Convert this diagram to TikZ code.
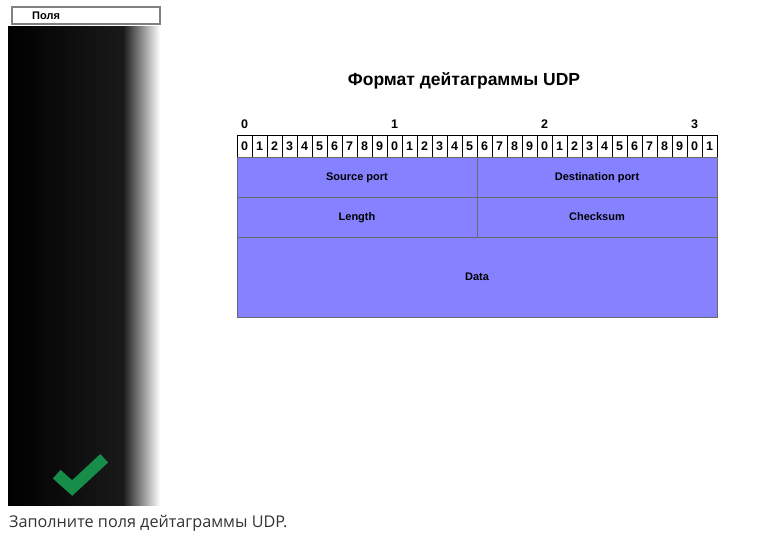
\documentclass[tikz,border=0pt]{standalone}
\usepackage{fontspec}
\setmainfont{Liberation Sans}
\newfontfamily\notefont{Open Sans}
\usetikzlibrary{positioning}
\definecolor{fieldblue}{RGB}{134,130,255}
\definecolor{fieldline}{RGB}{105,105,105}
\definecolor{tickgreen}{RGB}{22,142,74}
\definecolor{notegray}{RGB}{51,51,51}
\tikzset{bitbox/.style={draw,line width=0.8pt,outer sep=0pt,inner sep=0pt,minimum width=15pt,minimum height=22pt,font=\bfseries\fontsize{12.5}{12}\selectfont},
	 tens/.style={inner sep=0pt,font=\bfseries\fontsize{12.5}{12}\selectfont},
	 field/.style={draw=fieldline,fill=fieldblue,line width=0.8pt,outer sep=0pt,inner sep=0pt,minimum width=240pt,minimum height=40pt,text height=1.5ex,text depth=0.25ex,font=\bfseries\fontsize{11}{12}\selectfont},
	 node distance = 0pt
	 }

\begin{document}
\begin{tikzpicture}[x=1pt,y=-1pt]% UDP datagram
        \useasboundingbox (0,0) rectangle (769,540);
        % left panel
        \shade[left color=black,right color=black!90!white] (8,27) rectangle (123,505);
        \shade[left color=black!90!white,right color=white] (123,27) rectangle (160,505);
        \node[draw=gray,line width=2pt,fill=white,outer sep=0pt,inner sep=0pt,minimum width=148pt,minimum height=17pt,anchor=north west] (tab) at (12,7) {};
        \node[anchor=west,inner sep=0pt,font=\bfseries\fontsize{11}{12}\selectfont] (tablabel) at (32,16) {Поля};
        \draw[tickgreen,line width=11.5pt,line join=miter] (56.7,474.2) -- (72.2,488) -- (104.2,458.3);
        \node[anchor=base west,inner sep=0pt,text=notegray,font=\notefont\fontsize{16.2}{18}\selectfont] (note) at (9,527) {Заполните поля дейтаграммы UDP.};
        % title
        \node[font=\bfseries\fontsize{17.5}{20}\selectfont] (title) at (464,81) {Формат дейтаграммы UDP};
        % bit ruler
        \node[bitbox,anchor=north west] (b0) at (237,135) {0};
        \foreach \i in {1,...,31} {
            \pgfmathtruncatemacro\p{\i-1}
            \pgfmathtruncatemacro\d{mod(\i,10)}
            \node[bitbox] (b\i) [right=of b\p] {\d};
        }
        \foreach \t/\c in {0/0,1/10,2/20,3/30}
            \node[tens] (t\t) [above=6.5pt of b\c] {\t};
        % header fields
        \node[field,anchor=north west] (src) at (b0.south west) {Source port};
        \node[field] (dst) [right=of src] {Destination port};
        \node[field] (len) [below=of src] {Length};
        \node[field] (chk) [below=of dst] {Checksum};
        \node[field,minimum width=480pt,minimum height=80pt] (data) [below=of len.south east] {Data};
\end{tikzpicture}
\end{document}
